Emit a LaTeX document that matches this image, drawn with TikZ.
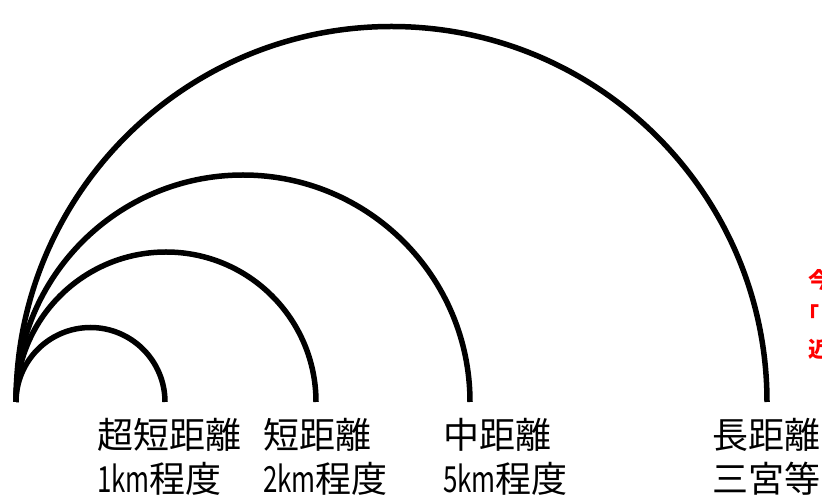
\documentclass[tikz,border=0pt]{standalone}
\usepackage{fontspec}
\newfontfamily\cjk{Noto Sans CJK JP}
\newcommand{\hw}[1]{\scalebox{0.72}[1]{#1}}
\begin{document}
\begin{tikzpicture}[x=1pt,y=1pt,
  arcline/.style={line width=5.5pt, line cap=butt},
  lab/.style={font=\cjk\fontsize{36}{40}\selectfont, anchor=base west, inner sep=0pt},
  note/.style={font=\cjk\bfseries\fontsize{22}{26}\selectfont, text=red, anchor=base west, inner sep=0pt}]
\useasboundingbox (0,0) rectangle (822,503);
\clip (0,0) rectangle (822,503);
% arcs (y measured upward: y = 503 - image y)
\draw[arcline] (16,101) arc[start angle=180, end angle=0, radius=74.5];
\draw[arcline] (16,101) arc[start angle=180, end angle=0, radius=150];
\draw[arcline] (16,101) arc[start angle=180, end angle=0, radius=227];
\draw[arcline] (16,101) arc[start angle=180, end angle=0, radius=375.5];
% labels
\node[lab] (l1a) at (97,54) {超短距離};
\node[lab] (l1b) at (97,10) {\hw{1km}程度};
\node[lab] (l2a) at (263,54) {短距離};
\node[lab] (l2b) at (263,10) {\hw{2km}程度};
\node[lab] (l3a) at (443,54) {中距離};
\node[lab] (l3b) at (443,10) {\hw{5km}程度};
\node[lab] (l4a) at (712,54) {長距離};
\node[lab] (l4b) at (712,10) {三宮等};
% red note (cut off at the right edge, as in the reference)
\node[note] (n1) at (808,214) {今};
\node[note] (n2) at (797,179.5) {「};
\node[note] (n3) at (808,145) {近};
\end{tikzpicture}
\end{document}
